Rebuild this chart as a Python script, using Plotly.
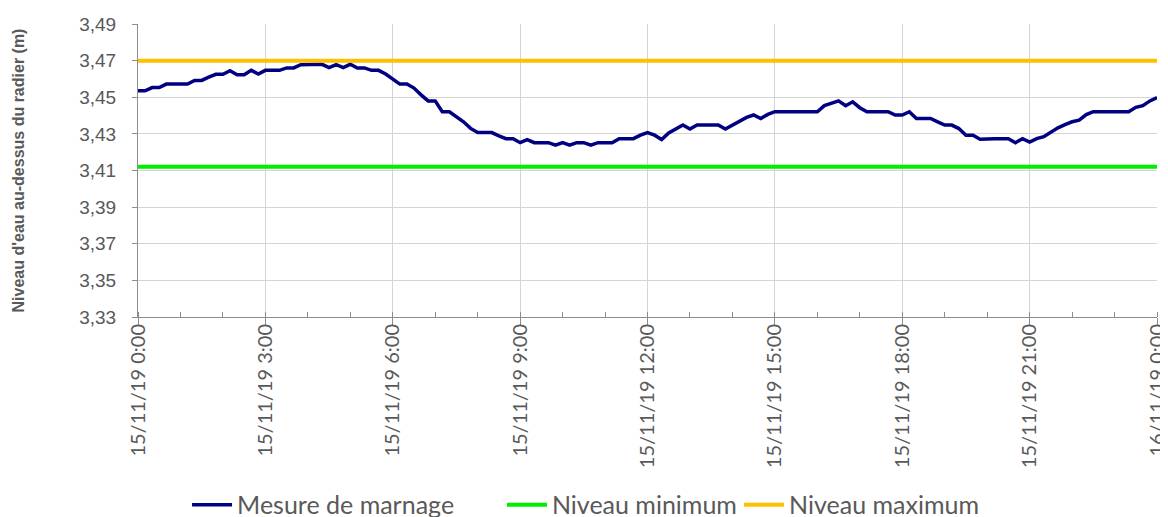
import pandas as pd
import plotly.graph_objects as go

# 10-minute readings, 15/11/19 00:00 -> 16/11/19 00:00
start = "2019-11-15 00:00"
end = "2019-11-16 00:00"
marnage = [
    3.4535, 3.4535, 3.4553, 3.4553, 3.4572, 3.4572,  # 0h
    3.4572, 3.4572, 3.4592, 3.4592, 3.4610, 3.4625,  # 1h
    3.4625, 3.4645, 3.4623, 3.4623, 3.4647, 3.4627,  # 2h
    3.4647, 3.4647, 3.4647, 3.4660, 3.4660, 3.4678,  # 3h
    3.4680, 3.4680, 3.4680, 3.4662, 3.4678, 3.4662,  # 4h
    3.4680, 3.4660, 3.4660, 3.4647, 3.4647, 3.4627,  # 5h
    3.4601, 3.4572, 3.4572, 3.4550, 3.4513, 3.4480,  # 6h
    3.4480, 3.4421, 3.4421, 3.4394, 3.4366, 3.4330,  # 7h
    3.4307, 3.4307, 3.4307, 3.4289, 3.4274, 3.4274,  # 8h
    3.4252, 3.4269, 3.4252, 3.4252, 3.4252, 3.4238,  # 9h
    3.4252, 3.4238, 3.4252, 3.4252, 3.4238, 3.4252,  # 10h
    3.4252, 3.4252, 3.4274, 3.4274, 3.4274, 3.4293,  # 11h
    3.4307, 3.4293, 3.4269, 3.4305, 3.4329, 3.4348,  # 12h
    3.4326, 3.4348, 3.4348, 3.4348, 3.4348, 3.4326,  # 13h
    3.4348, 3.4366, 3.4390, 3.4403, 3.4384, 3.4406,  # 14h
    3.4421, 3.4421, 3.4421, 3.4421, 3.4421, 3.4421,  # 15h
    3.4421, 3.4454, 3.4467, 3.4480, 3.4454, 3.4475,  # 16h
    3.4443, 3.4421, 3.4421, 3.4421, 3.4421, 3.4403,  # 17h
    3.4403, 3.4421, 3.4384, 3.4384, 3.4384, 3.4366,  # 18h
    3.4348, 3.4348, 3.4329, 3.4293, 3.4293, 3.4271,  # 19h
    3.4274, 3.4274, 3.4274, 3.4274, 3.4252, 3.4274,  # 20h
    3.4255, 3.4274, 3.4285, 3.4311, 3.4333, 3.4351,  # 21h
    3.4366, 3.4375, 3.4405, 3.4421, 3.4421, 3.4421,  # 22h
    3.4421, 3.4421, 3.4421, 3.4445, 3.4454, 3.4480,  # 23h
    3.4498,
]
niveau_min = 3.412
niveau_max = 3.47

t = pd.date_range(start, end, freq="10min")

gray = "#595959"
grid = "#D4D4D4"

fig = go.Figure()
fig.add_trace(go.Scatter(x=t, y=marnage, mode="lines", name="Mesure de marnage",
                         line=dict(color="#000080", width=3.5), legend="legend"))
fig.add_trace(go.Scatter(x=[t[0], t[-1]], y=[niveau_min] * 2, mode="lines",
                         name="Niveau minimum", line=dict(color="#00EE00", width=4),
                         legend="legend2"))
fig.add_trace(go.Scatter(x=[t[0], t[-1]], y=[niveau_max] * 2, mode="lines",
                         name="Niveau maximum", line=dict(color="#FFC000", width=4),
                         legend="legend3"))


def leg(x):
    return dict(orientation="h", xref="container", yref="container",
                x=x, y=0.0387, xanchor="left", yanchor="middle",
                font=dict(family="Lato", size=25, color=gray),
                itemwidth=40, bgcolor="rgba(0,0,0,0)")


# the page body adds an 8px offset, margins are set to land the plot where the picture has it
fig.update_layout(
    width=1168, height=517,
    margin=dict(l=130, r=19, t=16, b=208),
    paper_bgcolor="white", plot_bgcolor="white",
    separators=", ",
    font=dict(family="Lato", color=gray),
    showlegend=True,
    legend=leg(0.1533), legend2=leg(0.4229), legend3=leg(0.6259),
)
fig.update_xaxes(
    range=[start, end], type="date", automargin=False,
    dtick=3 * 3600 * 1000, tick0=start,
    tickformat="%d/%m/%y %-H:%M", tickangle=-90,
    tickfont=dict(family="Lato", size=20, color=gray),
    ticklabelstandoff=-9,
    showgrid=True, gridcolor=grid, gridwidth=1,
    showline=True, linecolor="#8C8C8C", linewidth=1,
    ticks="outside", ticklen=7, tickcolor="#8C8C8C",
    minor=dict(dtick=3600 * 1000, ticks="inside", ticklen=5,
               tickcolor="#8C8C8C", showgrid=False),
    zeroline=False,
)
fig.update_yaxes(
    range=[3.33, 3.49], dtick=0.02, tick0=3.33, tickformat=".2f",
    automargin=False,
    tickfont=dict(family="Liberation Sans", size=19, color=gray),
    ticklabelstandoff=12,
    title=dict(text="<b>Niveau d'eau au-dessus du radier (m)</b>",
               font=dict(family="Liberation Sans", size=16, color=gray),
               standoff=50),
    showgrid=True, gridcolor=grid, gridwidth=1,
    showline=True, linecolor="#8C8C8C", linewidth=1,
    ticks="outside", ticklen=5, tickcolor="#8C8C8C",
    zeroline=False,
)

fig.write_html("out.html")
